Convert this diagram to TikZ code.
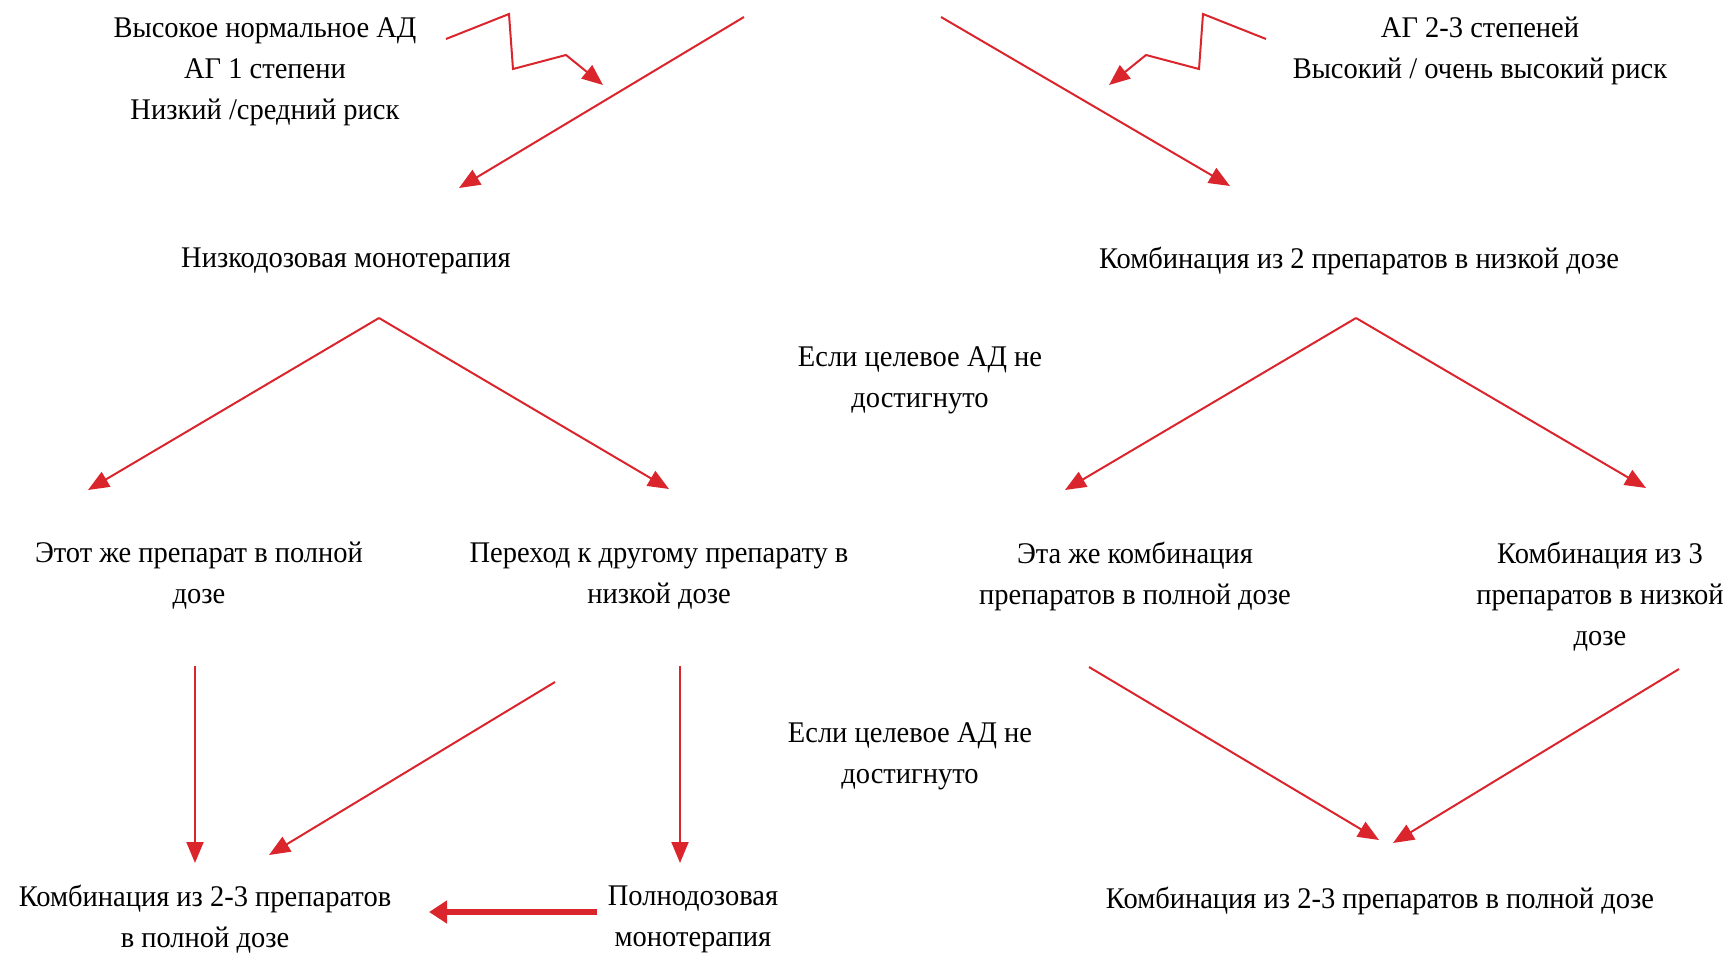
\documentclass[tikz,border=0pt]{standalone}
\usepackage{fontspec}
\setmainfont{Liberation Serif}[FakeStretch=0.95]
\usetikzlibrary{arrows.meta}
\definecolor{arrred}{RGB}{218,37,45}
\tikzset{
  lbl/.style={align=center, inner sep=0pt, font=\fontsize{15}{20.5}\selectfont},
  arr/.style={draw=arrred, line width=1pt, -{Triangle[length=10.5pt,width=8.5pt]}, arrred},
  arrthick/.style={draw=arrred, line width=3pt, -{Triangle[length=9pt,width=11pt]}, arrred},
}
\begin{document}
\begin{tikzpicture}[x=0.5pt,y=-0.5pt]
\useasboundingbox (0,0) rectangle (1734,953);
% text nodes
\node[lbl] (t1) at (265,72) {Высокое нормальное АД\\АГ 1 степени\\Низкий /средний риск};
\node[lbl] (t2) at (1480,51) {АГ 2-3 степеней\\Высокий / очень высокий риск};
\node[lbl] (lowmono) at (346,261) {Низкодозовая монотерапия};
\node[lbl] (combo2low) at (1359,261) {Комбинация из 2 препаратов в низкой дозе};
\node[lbl] (if1) at (920,380) {Если целевое АД не\\достигнуто};
\node[lbl] (if2) at (910,756) {Если целевое АД не\\достигнуто};
\node[lbl] (same) at (199,576) {Этот же препарат в полной\\дозе};
\node[lbl] (switch) at (659,576) {Переход к другому препарату в\\низкой дозе};
\node[lbl] (samecombo) at (1135,576) {Эта же комбинация\\препаратов в полной дозе};
\node[lbl] (combo3) at (1600,597) {Комбинация из 3\\препаратов в низкой\\дозе};
\node[lbl] (combofull) at (205,919) {Комбинация из 2-3 препаратов\\в полной дозе};
\node[lbl] (fullmono) at (693,919) {Полнодозовая\\монотерапия};
\node[lbl] (combofullR) at (1380,901) {Комбинация из 2-3 препаратов в полной дозе};
% connector end points
\coordinate (topL) at (744,17);
\coordinate (topR) at (941,17);
\coordinate (lowmonoIn) at (459,188);
\coordinate (combo2lowIn) at (1230,186);
\coordinate (zl0) at (446,39);
\coordinate (zl1) at (509,14);
\coordinate (zl2) at (513,69);
\coordinate (zl3) at (566,55);
\coordinate (zl4) at (603,85);
\coordinate (zr0) at (1266,39);
\coordinate (zr1) at (1203,14);
\coordinate (zr2) at (1199,69);
\coordinate (zr3) at (1146,55);
\coordinate (zr4) at (1109,85);
\coordinate (lowmonoOut) at (379,318);
\coordinate (sameIn) at (88,490);
\coordinate (switchIn) at (669,489);
\coordinate (combo2lowOut) at (1356,318);
\coordinate (samecomboIn) at (1065,490);
\coordinate (combo3In) at (1646,488);
\coordinate (sameOut) at (195,666);
\coordinate (combofullInA) at (195,863);
\coordinate (switchOutA) at (555,682);
\coordinate (combofullInB) at (269,855);
\coordinate (switchOutB) at (680,666);
\coordinate (fullmonoIn) at (680,863);
\coordinate (fullmonoOut) at (597,912);
\coordinate (combofullInC) at (429,912);
\coordinate (samecomboOut) at (1089,667);
\coordinate (combofullRInA) at (1379,840);
\coordinate (combo3Out) at (1679,669);
\coordinate (combofullRInB) at (1393,843);
% connectors
\draw[arr] (topL) -- (lowmonoIn);
\draw[arr] (topR) -- (combo2lowIn);
\draw[arr] (zl0) -- (zl1) -- (zl2) -- (zl3) -- (zl4);
\draw[arr] (zr0) -- (zr1) -- (zr2) -- (zr3) -- (zr4);
\draw[arr] (lowmonoOut) -- (sameIn);
\draw[arr] (lowmonoOut) -- (switchIn);
\draw[arr] (combo2lowOut) -- (samecomboIn);
\draw[arr] (combo2lowOut) -- (combo3In);
\draw[arr] (sameOut) -- (combofullInA);
\draw[arr] (switchOutA) -- (combofullInB);
\draw[arr] (switchOutB) -- (fullmonoIn);
\draw[arrthick] (fullmonoOut) -- (combofullInC);
\draw[arr] (samecomboOut) -- (combofullRInA);
\draw[arr] (combo3Out) -- (combofullRInB);
\end{tikzpicture}
\end{document}
